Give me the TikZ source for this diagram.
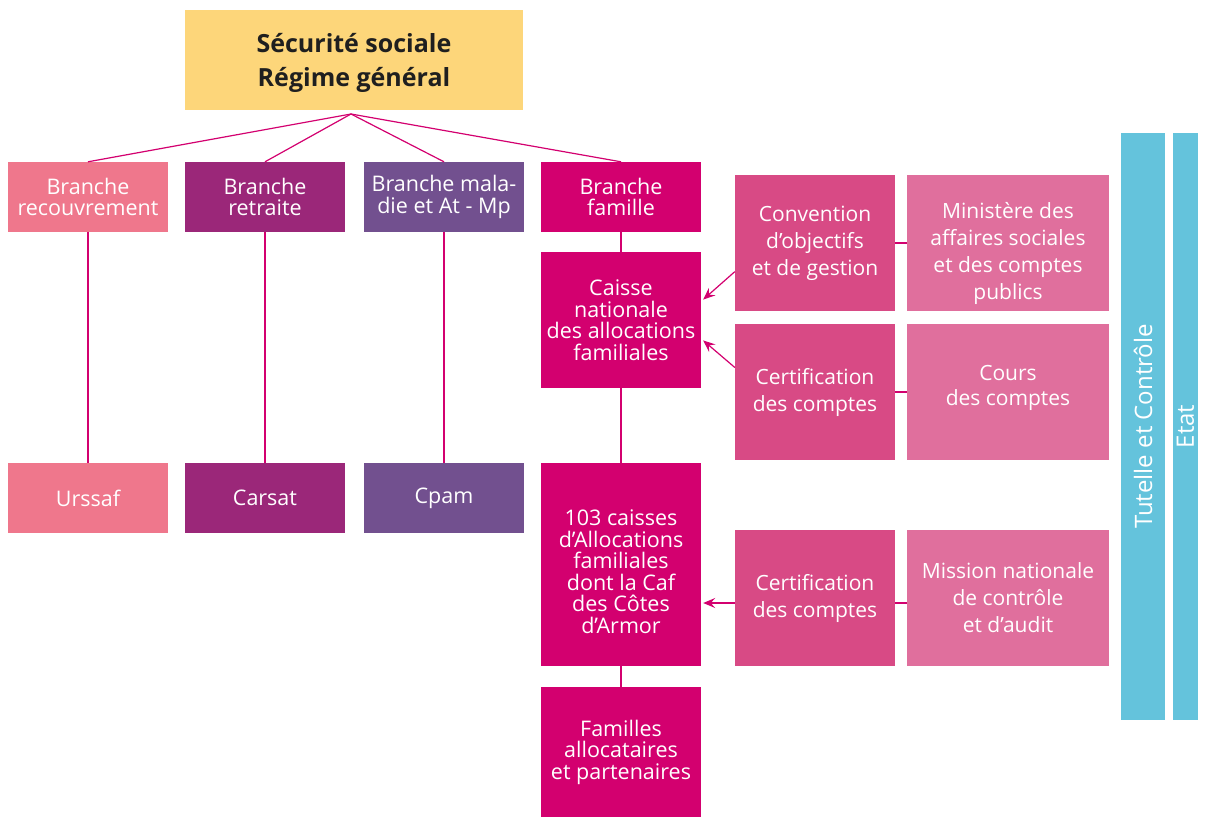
\documentclass[tikz,border=0pt]{standalone}
\usepackage{fontspec}
\setmainfont{Open Sans}
\usetikzlibrary{arrows.meta,calc}
\definecolor{ctop}{HTML}{FDD67A}
\definecolor{crec}{HTML}{EF778C}
\definecolor{cret}{HTML}{9B2779}
\definecolor{cmal}{HTML}{72508F}
\definecolor{cfam}{HTML}{D3006F}
\definecolor{cmid}{HTML}{D84A85}
\definecolor{cout}{HTML}{E06F9D}
\definecolor{cteal}{HTML}{64C3DC}
\definecolor{cline}{HTML}{D3006F}
\newcommand{\lift}[1]{\rule{0pt}{#1}}
\newcommand{\drop}[1]{\rule[-#1]{0pt}{#1}}
\begin{document}
\begin{tikzpicture}[x=1pt,y=-1pt,
  box/.style={draw=none,inner sep=0pt,align=center,text=white,
    font=\fontsize{21.5}{21.5}\selectfont},
  colbox/.style={box,minimum width=160pt},
  rowbox/.style={box,minimum width=160pt,minimum height=70pt},
  sidebox/.style={box,minimum height=136pt,font=\fontsize{21}{27}\selectfont},
  bar/.style={box,fill=cteal,rotate=90,minimum width=587pt,font=\fontsize{24}{28}\selectfont},
  conn/.style={draw=cline,line width=1.2pt},
  arr/.style={conn,-{Stealth[length=12pt,width=10pt,inset=4.5pt]}}
]
\useasboundingbox (0,0) rectangle (1205,817);

% title
\node[box,fill=ctop,minimum width=338pt,minimum height=100pt,text=black!88,
  font=\fontsize{25}{34}\selectfont\bfseries] (top) at (354,60)
  {\lift{26pt}Sécurité sociale\\Régime général};
\coordinate (hub) at (351,114);

% branches
\node[rowbox,fill=crec] (recouv) at (88,197) {Branche\\recouvrement};
\node[rowbox,fill=cret] (retraite) at (265,197) {Branche\\retraite};
\node[rowbox,fill=cmal] (maladie) at (444,197) {Branche mala-\\die et At - Mp};
\node[rowbox,fill=cfam] (famille) at (621,197) {Branche\\famille};

\node[rowbox,fill=crec] (urssaf) at (88,498) {Urssaf};
\node[rowbox,fill=cret] (carsat) at (265,498) {Carsat};
\node[rowbox,fill=cmal] (cpam) at (444,498) {Cpam};

% famille column
\node[colbox,fill=cfam,minimum height=136pt] (cnaf) at (621,320)
  {Caisse\\nationale\\des allocations\\familiales};
\node[colbox,fill=cfam,minimum height=203pt] (caf) at (621,564.5)
  {\lift{30pt}103 caisses\\d’Allocations\\familiales\\dont la Caf\\des Côtes\\d’Armor};
\node[colbox,fill=cfam,minimum height=130pt] (familles) at (621,752)
  {Familles\\allocataires\\et partenaires};

% side boxes
\node[sidebox,fill=cmid,minimum width=160pt] (conv) at (815,243)
  {Convention\\d’objectifs\\et de gestion};
\node[sidebox,fill=cout,minimum width=202pt] (minist) at (1008,243)
  {\lift{38pt}Ministère des\\affaires sociales\\et des comptes\\publics};
\node[sidebox,fill=cmid,minimum width=160pt] (cert1) at (815,392)
  {Certification\\des comptes};
\node[sidebox,fill=cout,minimum width=202pt,font=\fontsize{21}{25}\selectfont] (cours) at (1008,392)
  {Cours\\des comptes\drop{14pt}};
\node[sidebox,fill=cmid,minimum width=160pt] (cert2) at (815,598)
  {Certification\\des comptes};
\node[sidebox,fill=cout,minimum width=202pt] (mission) at (1008,598)
  {Mission nationale\\de contrôle\\et d’audit};

% bars
\node[bar,minimum height=44pt] (tutelle) at (1143,426.5) {Tutelle et Contrôle};
\node[bar,minimum height=25pt] (etat) at (1185.5,426.5) {Etat};

% connectors
\draw[conn] (hub) -- (recouv.north);
\draw[conn] (hub) -- (retraite.north);
\draw[conn] (hub) -- (maladie.north);
\draw[conn] (hub) -- (famille.north);

\draw[conn] (recouv.south) -- (urssaf.north);
\draw[conn] (retraite.south) -- (carsat.north);
\draw[conn] (maladie.south) -- (cpam.north);

\draw[conn] (famille.south) -- (cnaf.north);
\draw[conn] (cnaf.south) -- (caf.north);
\draw[conn] (caf.south) -- (familles.north);

\draw[conn] (conv.east) -- (minist.west);
\draw[conn] (cert1.east) -- (cours.west);
\draw[conn] (cert2.east |- 603,603) -- (mission.west |- 603,603);

\draw[arr] ($(conv.north west)!0.71!(conv.south west)$) -- ($(cnaf.north east)!0.35!(cnaf.south east)+(2,0)$);
\draw[arr] ($(cert1.north west)!0.32!(cert1.south west)$) -- ($(cnaf.north east)!0.65!(cnaf.south east)+(2,0)$);
\draw[arr] (cert2.west |- 603,603) -- ($(caf.east |- 603,603)+(2,0)$);
\end{tikzpicture}
\end{document}
